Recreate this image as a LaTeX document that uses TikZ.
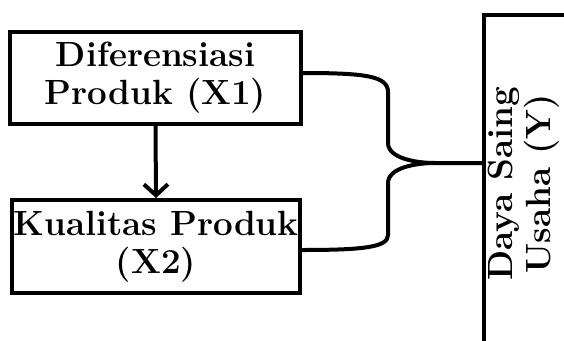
\documentclass[tikz,border=0pt]{standalone}
\usepackage{fontspec}
\usepackage{tikz}
\usetikzlibrary{arrows.meta, positioning, calc}

\begin{document}
\begin{tikzpicture}[x=1pt, y=-1pt,
    kotak/.style = {draw, line width=4pt, align=center, inner sep=0pt, font=\bfseries\fontsize{35}{38}\selectfont},
    garis/.style = {line width=4pt}]
    % Bidang gambar
    \clip (0,0) rectangle (564,340);
    % Variabel X1
    \node[kotak, minimum width=291pt, minimum height=92pt] (x1) at (155.5,78) {Diferensiasi\\Produk (X1)};
    % Variabel X2
    \node[kotak, minimum width=288pt, minimum height=93pt] (x2) at (156,246.5) {Kualitas Produk\\(X2)};
    % Variabel Y (kotak terpotong di tepi)
    \node[draw, line width=4pt, minimum width=200pt, minimum height=400pt, anchor=north west] (y) at (482,12.5) {};
    \node[rotate=90, align=center, inner sep=0pt, font=\bfseries\fontsize{35}{38}\selectfont] (ylabel) at (524,184) {Daya Saing\\Usaha (Y)};
    % Panah X1 -> X2
    \draw[garis, -{Straight Barb[length=11pt, width=24pt]}] (x1.south) -- (x2.north);
    % Kurung kurawal ke Y
    \coordinate (tengah) at (435,163);
    \coordinate (ujung) at (y.north west |- 0,163);
    \draw[garis] ([yshift=5pt]x1.east) .. controls (365,73) and (388,76) .. (388,92) -- (388,143)
        .. controls (388,158) and (415,163) .. (tengah) -- (ujung);
    \draw[garis] (tengah) .. controls (415,163) and (388,168) .. (388,183) -- (388,235)
        .. controls (388,247) and (365,250) .. ([yshift=-3.5pt]x2.east);
\end{tikzpicture}
\end{document}
